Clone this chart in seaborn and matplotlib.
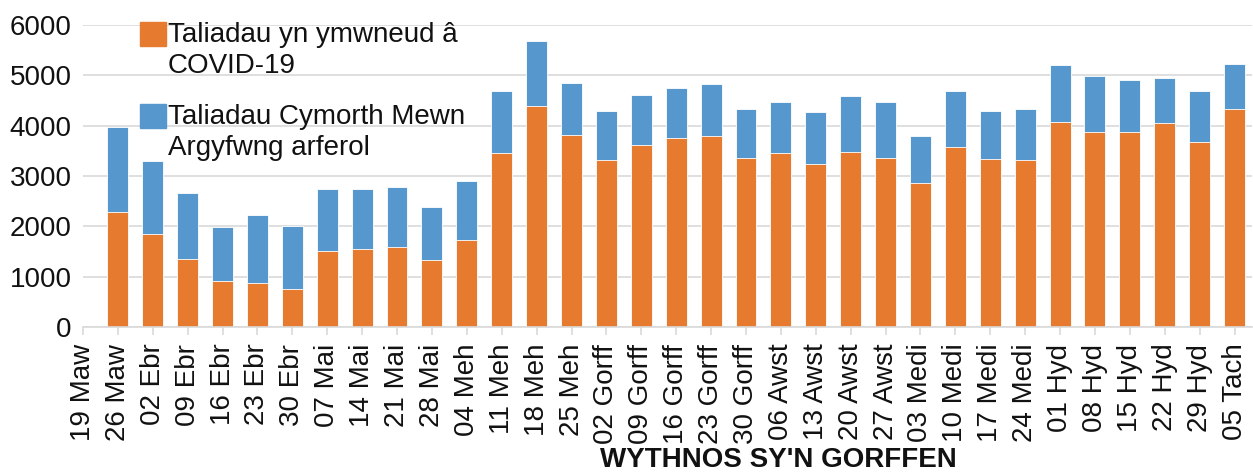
"""Weekly emergency assistance payments, stacked bars (COVID-19 vs regular)"""

import pandas as pd
import seaborn as sns
import matplotlib.pyplot as plt
import matplotlib.patches as mpatches
from matplotlib.legend_handler import HandlerPatch

# week-ending labels (first one sits on the axis edge, no bar)
weeks = ["19 Maw", "26 Maw", "02 Ebr", "09 Ebr", "16 Ebr", "23 Ebr", "30 Ebr",
         "07 Mai", "14 Mai", "21 Mai", "28 Mai", "04 Meh", "11 Meh", "18 Meh",
         "25 Meh", "02 Gorff", "09 Gorff", "16 Gorff", "23 Gorff", "30 Gorff",
         "06 Awst", "13 Awst", "20 Awst", "27 Awst", "03 Medi", "10 Medi",
         "17 Medi", "24 Medi", "01 Hyd", "08 Hyd", "15 Hyd", "22 Hyd", "29 Hyd",
         "05 Tach"]

# payments related to COVID-19 (26 Maw onwards)
covid = [2285, 1855, 1350, 915, 870, 750, 1515, 1545, 1585, 1325, 1735, 3450,
         4390, 3815, 3310, 3625, 3750, 3795, 3365, 3450, 3245, 3485, 3365, 2855,
         3575, 3340, 3320, 4080, 3870, 3870, 4055, 3675, 4325]

# regular emergency assistance payments
regular = [1695, 1450, 1320, 1080, 1360, 1265, 1220, 1190, 1195, 1055, 1165,
           1235, 1300, 1035, 990, 980, 1005, 1025, 960, 1015, 1025, 1100, 1100,
           935, 1110, 960, 1005, 1130, 1125, 1030, 885, 1010, 905]

legend_labels = ["Taliadau yn ymwneud â\nCOVID-19",
                 "Taliadau Cymorth Mewn\nArgyfwng arferol"]
x_title = "WYTHNOS SY'N GORFFEN"

ORANGE = "#E67A2F"
BLUE = "#5698CE"
GRID = "#D9D9D9"

df = pd.DataFrame({"week": weeks[1:], "covid": covid, "regular": regular})
df["total"] = df["covid"] + df["regular"]

sns.set_style("white")
plt.rcParams["font.family"] = ["Liberation Sans", "DejaVu Sans"]

fig = plt.figure(figsize=(12.53, 4.73), dpi=100)
ax = fig.add_axes([0.0662, 0.3087, 0.9330, 0.6384])

bar_kw = dict(order=weeks, width=0.6, saturation=1, errorbar=None,
              edgecolor="white", linewidth=0.6, ax=ax)
sns.barplot(data=df, x="week", y="total", color=BLUE, **bar_kw)
sns.barplot(data=df, x="week", y="covid", color=ORANGE, **bar_kw)

ax.set_xlim(0, 33.5)
ax.set_ylim(0, 6000)
ax.set_yticks(range(0, 6001, 1000))
ax.yaxis.grid(True, color=GRID, linewidth=1.2)
ax.set_axisbelow(True)
for side in ["left", "right", "top"]:
    ax.spines[side].set_visible(False)
ax.spines["bottom"].set_color(GRID)
ax.spines["bottom"].set_linewidth(1.2)
ax.spines["bottom"].set_zorder(5)

ax.set_xticks(range(len(weeks)))
ax.set_xticklabels(weeks, rotation=90, fontsize=20, color="#111111")
ax.tick_params(axis="x", length=6, width=1.2, color=GRID, pad=6, bottom=True)
ax.tick_params(axis="y", length=0, pad=8, labelsize=20, labelcolor="#111111")
ax.set_ylabel("")
ax.set_xlabel(x_title, fontsize=20, fontweight="bold", color="#111111")
ax.xaxis.set_label_coords(0.595, -0.396)


def top_square(legend, orig_handle, xdescent, ydescent, width, height, fontsize):
    # put the swatch next to the first line of a two-line label
    return mpatches.Rectangle((-xdescent, -ydescent + 0.6 * fontsize), width, height)


handles = [mpatches.Patch(color=ORANGE), mpatches.Patch(color=BLUE)]
leg = ax.legend(handles, legend_labels, loc="upper left",
                bbox_to_anchor=(0.0488, 1.010), frameon=False, fontsize=20,
                handlelength=0.95, handleheight=0.95, handletextpad=0.05,
                borderpad=0, borderaxespad=0, labelspacing=0.9,
                handler_map={mpatches.Patch: HandlerPatch(patch_func=top_square)})
for t in leg.get_texts():
    t.set_linespacing(1.25)
    t.set_color("#111111")

fig.savefig("out.png", dpi=100)
plt.close(fig)
